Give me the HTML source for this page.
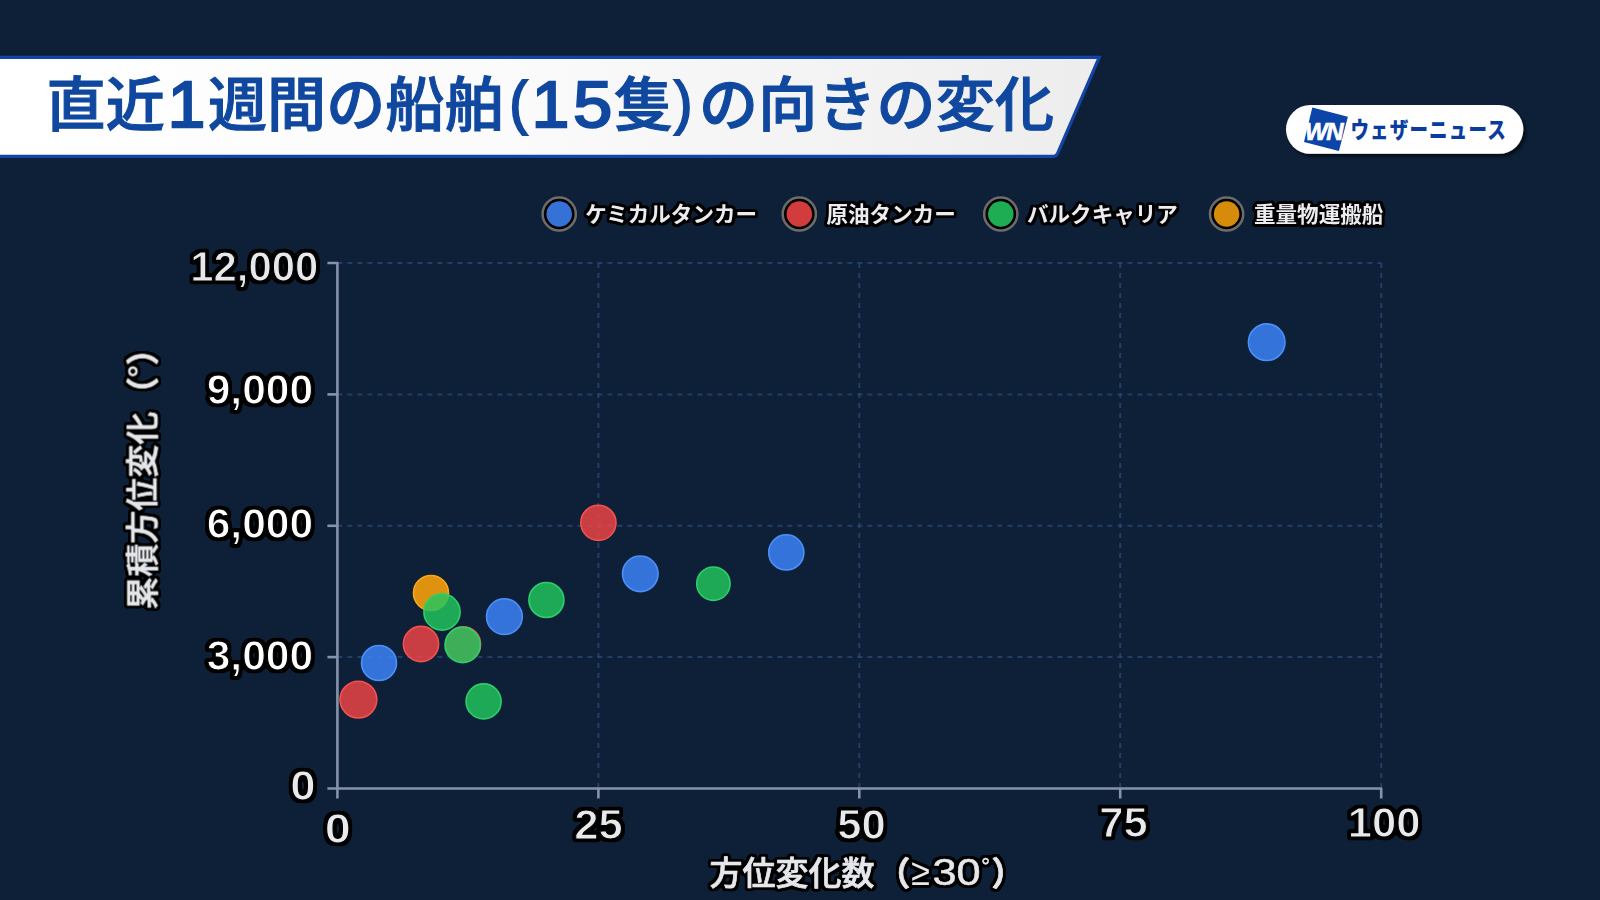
<!DOCTYPE html>
<html lang="ja">
<head>
<meta charset="utf-8">
<title>直近1週間の船舶(15隻)の向きの変化</title>
<style>
html,body{margin:0;padding:0;background:#0d2037;}
body{width:1600px;height:900px;overflow:hidden;position:relative;font-family:"Liberation Sans","Noto Sans CJK JP",sans-serif;}
svg{position:absolute;left:0;top:0;display:block;}
text{font-family:"Liberation Sans","Noto Sans CJK JP",sans-serif;}
.num{font-weight:bold;font-size:43.4px;stroke:#000;stroke-width:1.1px;}
.leg{font-weight:bold;font-size:21.55px;fill:#ececf0;}
.axt{font-weight:500;font-size:33px;fill:#e6e7eb;stroke:#e6e7eb;stroke-width:0.7px;stroke-linejoin:round;}
.ttl{font-weight:500;font-size:59px;letter-spacing:0.2px;fill:#10489f;stroke:#10489f;stroke-width:1.1px;}
.dg{font-weight:normal;letter-spacing:0;}
</style>
</head>
<body>
<svg width="1600" height="900" viewBox="0 0 1600 900">
<defs>
<linearGradient id="bn" x1="0" y1="0" x2="1" y2="0">
<stop offset="0" stop-color="#ffffff"/><stop offset="0.45" stop-color="#fbfbfb"/><stop offset="1" stop-color="#ededed"/>
</linearGradient>
<filter id="sh" x="-20%" y="-40%" width="140%" height="200%">
<feDropShadow dx="2.5" dy="3" stdDeviation="1.7" flood-color="#000" flood-opacity="0.6"/>
</filter>
<filter id="ol" filterUnits="userSpaceOnUse" x="0" y="0" width="1600" height="900" color-interpolation-filters="sRGB">
<feMorphology in="SourceAlpha" operator="dilate" radius="2.0" result="d"/>
<feGaussianBlur in="d" stdDeviation="1.1" result="b"/>
<feComponentTransfer in="b" result="t"><feFuncA type="linear" slope="6" intercept="-1.0"/></feComponentTransfer>
<feFlood flood-color="#000" result="f"/>
<feComposite in="f" in2="t" operator="in" result="o"/>
<feMerge><feMergeNode in="o"/><feMergeNode in="SourceGraphic"/></feMerge>
</filter>
<filter id="ol3" filterUnits="userSpaceOnUse" x="0" y="0" width="1600" height="900" color-interpolation-filters="sRGB">
<feMorphology in="SourceAlpha" operator="dilate" radius="1.6" result="d"/>
<feGaussianBlur in="d" stdDeviation="1.0" result="b"/>
<feComponentTransfer in="b" result="t"><feFuncA type="linear" slope="6" intercept="-1.0"/></feComponentTransfer>
<feFlood flood-color="#000" result="f"/>
<feComposite in="f" in2="t" operator="in" result="o"/>
<feMerge><feMergeNode in="o"/><feMergeNode in="SourceGraphic"/></feMerge>
</filter>
<filter id="ol2" filterUnits="userSpaceOnUse" x="0" y="0" width="1600" height="900" color-interpolation-filters="sRGB">
<feMorphology in="SourceAlpha" operator="dilate" radius="2.3" result="d"/>
<feGaussianBlur in="d" stdDeviation="1.2" result="b"/>
<feComponentTransfer in="b" result="t"><feFuncA type="linear" slope="6" intercept="-1.0"/></feComponentTransfer>
<feFlood flood-color="#000" result="f"/>
<feComposite in="f" in2="t" operator="in" result="o"/>
<feMerge><feMergeNode in="o"/><feMergeNode in="SourceGraphic"/></feMerge>
</filter>
</defs>
<rect x="0" y="0" width="1600" height="900" fill="#0d2037"/>

<path d="M-5 57.3 H1099.2 L1057.6 153.4 Q1056.4 156.3 1053.2 156.3 H-5 Z" fill="url(#bn)" stroke="#1445a6" stroke-width="3.2" stroke-linejoin="miter"/>
<text class="ttl"><tspan x="46.6" y="125.8">直近</tspan><tspan class="dg" x="167.86" y="127.2" font-size="64.8" stroke-width="2.4" textLength="37.48" lengthAdjust="spacingAndGlyphs">1</tspan><tspan x="207.9" y="125.8">週間の船舶</tspan><tspan class="dg" x="509.51" y="123.4" font-size="60.0" stroke-width="2.2" textLength="17.98" lengthAdjust="spacingAndGlyphs">(</tspan><tspan class="dg" x="531.66" y="127.2" font-size="64.8" stroke-width="2.4" textLength="37.48" lengthAdjust="spacingAndGlyphs">1</tspan><tspan class="dg" x="573.34" y="127.2" font-size="64.8" stroke-width="2.4" textLength="38.92" lengthAdjust="spacingAndGlyphs">5</tspan><tspan x="614.1" y="125.8">隻</tspan><tspan class="dg" x="674.21" y="123.4" font-size="60.0" stroke-width="2.2" textLength="17.98" lengthAdjust="spacingAndGlyphs">)</tspan><tspan x="699.0" y="125.8">の向きの変化</tspan></text>
<g filter="url(#sh)"><rect x="1286" y="105" width="237.3" height="48.8" rx="24.4" fill="#fff"/></g>
<polygon points="1312.3,107.4 1347.9,116.8 1338.9,150.9 1304,141.9" fill="#0c44a8"/>
<text x="1305" y="140" font-weight="bold" font-style="italic" font-size="24" letter-spacing="-1.3" fill="#fff" stroke="#fff" stroke-width="0.7">WN</text>
<text transform="translate(1350.4,138.2) scale(0.82,1)" font-size="22.6" letter-spacing="1.4" fill="#0a3ca0" style="font-weight:900">ウェザーニュース</text>
<line x1="598.4" y1="263.0" x2="598.4" y2="788.5" stroke="#2b4876" stroke-width="2" stroke-dasharray="5 5" opacity="0.75"/>
<line x1="859.3" y1="263.0" x2="859.3" y2="788.5" stroke="#2b4876" stroke-width="2" stroke-dasharray="5 5" opacity="0.75"/>
<line x1="1120.2" y1="263.0" x2="1120.2" y2="788.5" stroke="#2b4876" stroke-width="2" stroke-dasharray="5 5" opacity="0.75"/>
<line x1="1381.2" y1="263.0" x2="1381.2" y2="788.5" stroke="#2b4876" stroke-width="2" stroke-dasharray="5 5" opacity="0.75"/>
<line x1="337.4" y1="657.1" x2="1381.2" y2="657.1" stroke="#2b4876" stroke-width="2" stroke-dasharray="5 5" opacity="0.75"/>
<line x1="337.4" y1="525.8" x2="1381.2" y2="525.8" stroke="#2b4876" stroke-width="2" stroke-dasharray="5 5" opacity="0.75"/>
<line x1="337.4" y1="394.4" x2="1381.2" y2="394.4" stroke="#2b4876" stroke-width="2" stroke-dasharray="5 5" opacity="0.75"/>
<line x1="337.4" y1="263.0" x2="1381.2" y2="263.0" stroke="#2b4876" stroke-width="2" stroke-dasharray="5 5" opacity="0.75"/>
<path d="M327.4 263.0 H337.4 V798.5" fill="none" stroke="#8692aa" stroke-width="2.6" stroke-linejoin="round"/>
<path d="M327.4 788.5 H1381.2 V798.5" fill="none" stroke="#8692aa" stroke-width="2.6" stroke-linejoin="round"/>
<line x1="598.4" y1="788.5" x2="598.4" y2="798.5" stroke="#8692aa" stroke-width="2.6"/>
<line x1="859.3" y1="788.5" x2="859.3" y2="798.5" stroke="#8692aa" stroke-width="2.6"/>
<line x1="1120.2" y1="788.5" x2="1120.2" y2="798.5" stroke="#8692aa" stroke-width="2.6"/>
<line x1="327.4" y1="657.1" x2="337.4" y2="657.1" stroke="#8692aa" stroke-width="2.6"/>
<line x1="327.4" y1="525.8" x2="337.4" y2="525.8" stroke="#8692aa" stroke-width="2.6"/>
<line x1="327.4" y1="394.4" x2="337.4" y2="394.4" stroke="#8692aa" stroke-width="2.6"/>
<circle cx="1266.7" cy="342.2" r="18.3" fill="#3b82f6" fill-opacity="0.86" stroke="#4a90f8" stroke-width="1.6"/>
<circle cx="598.4" cy="522.8" r="17.6" fill="#ef4444" fill-opacity="0.83" stroke="#f45050" stroke-width="1.6"/>
<circle cx="786.3" cy="552.4" r="17.6" fill="#3b82f6" fill-opacity="0.86" stroke="#4a90f8" stroke-width="1.6"/>
<circle cx="640.3" cy="573.8" r="17.8" fill="#3b82f6" fill-opacity="0.86" stroke="#4a90f8" stroke-width="1.6"/>
<circle cx="713.4" cy="583.7" r="16.7" fill="#22c55e" fill-opacity="0.83" stroke="#2ccf68" stroke-width="1.6"/>
<circle cx="546.4" cy="600.0" r="17.5" fill="#22c55e" fill-opacity="0.83" stroke="#2ccf68" stroke-width="1.6"/>
<circle cx="431.0" cy="593.0" r="17.5" fill="#f59e0b" fill-opacity="0.9" stroke="#f8a818" stroke-width="1.6"/>
<circle cx="442.0" cy="612.0" r="18.1" fill="#22c55e" fill-opacity="0.83" stroke="#2ccf68" stroke-width="1.6"/>
<circle cx="504.4" cy="616.6" r="17.9" fill="#3b82f6" fill-opacity="0.86" stroke="#4a90f8" stroke-width="1.6"/>
<circle cx="421.0" cy="644.0" r="17.6" fill="#ef4444" fill-opacity="0.83" stroke="#f45050" stroke-width="1.6"/>
<circle cx="463.2" cy="644.2" r="17.4" fill="#ef4444" fill-opacity="0.83" stroke="#f45050" stroke-width="1.6"/>
<circle cx="462.6" cy="645.0" r="17.6" fill="#22c55e" fill-opacity="0.83" stroke="#2ccf68" stroke-width="1.6"/>
<circle cx="379.0" cy="663.0" r="17.5" fill="#3b82f6" fill-opacity="0.86" stroke="#4a90f8" stroke-width="1.6"/>
<circle cx="358.4" cy="699.6" r="18.4" fill="#ef4444" fill-opacity="0.83" stroke="#f45050" stroke-width="1.6"/>
<circle cx="483.6" cy="701.4" r="17.5" fill="#22c55e" fill-opacity="0.83" stroke="#2ccf68" stroke-width="1.6"/>
<circle cx="559.2" cy="214" r="16.6" fill="#000" stroke="#6e6c6b" stroke-width="2.5"/>
<circle cx="559.2" cy="214" r="12.75" fill="#3b82f6" fill-opacity="0.88"/>
<circle cx="799.3" cy="214" r="16.6" fill="#000" stroke="#6e6c6b" stroke-width="2.5"/>
<circle cx="799.3" cy="214" r="12.75" fill="#ef4444" fill-opacity="0.88"/>
<circle cx="1000.8" cy="214" r="16.6" fill="#000" stroke="#6e6c6b" stroke-width="2.5"/>
<circle cx="1000.8" cy="214" r="12.75" fill="#22c55e" fill-opacity="0.88"/>
<circle cx="1226.6" cy="214" r="16.6" fill="#000" stroke="#6e6c6b" stroke-width="2.5"/>
<circle cx="1226.6" cy="214" r="12.75" fill="#f59e0b" fill-opacity="0.88"/>
<g filter="url(#ol)">
<text class="leg" x="585.3" y="221.8">ケミカルタンカー</text>
<text class="leg" x="826.5" y="221.8">原油タンカー</text>
<text class="leg" x="1027.0" y="221.8">バルクキャリア</text>
<text class="leg" x="1254.0" y="221.8">重量物運搬船</text>
</g>
<g filter="url(#ol3)">
<text class="num" transform="translate(318.3,281.2) scale(0.965,1)" text-anchor="end" fill="#e6e8ec">12,000</text>
<text class="num" transform="translate(313.1,404.2) scale(0.980,1)" text-anchor="end" fill="#ffffff">9,000</text>
<text class="num" transform="translate(313.1,538.0) scale(0.980,1)" text-anchor="end" fill="#ffffff">6,000</text>
<text class="num" transform="translate(313.1,670.1) scale(0.980,1)" text-anchor="end" fill="#ffffff">3,000</text>
<text class="num" transform="translate(315.5,800.1) scale(1.050,1)" text-anchor="end" fill="#e8e9ed">0</text>
<text class="num" transform="translate(337.7,843.0) scale(1.080,1)" text-anchor="middle" fill="#e8e9ed">0</text>
<text class="num" transform="translate(598.6,839.1) scale(1.005,1)" text-anchor="middle" fill="#e8e9ed">25</text>
<text class="num" transform="translate(861.5,839.3) scale(1.005,1)" text-anchor="middle" fill="#e8e9ed">50</text>
<text class="num" transform="translate(1123.4,837.2) scale(1.005,1)" text-anchor="middle" fill="#e8e9ed">75</text>
<text class="num" transform="translate(1384.0,837.0) scale(1.005,1)" text-anchor="middle" fill="#e8e9ed">100</text>
</g>
<g filter="url(#ol2)">
<text class="axt"><tspan x="709.5" y="884.6">方位変化数</tspan><tspan x="877.2" y="884.6" style="font-weight:700">（</tspan><tspan x="911.3" y="885.2" font-size="38" font-weight="normal" stroke-width="0" textLength="18.77" lengthAdjust="spacingAndGlyphs">≥</tspan><tspan x="932.4" y="885.3" font-size="37" font-weight="normal" stroke-width="0.5" textLength="48.20" lengthAdjust="spacingAndGlyphs">30</tspan><tspan x="981.3" y="873.6" font-size="22" font-weight="normal" stroke-width="0.5">°</tspan><tspan x="991.5" y="884.6" style="font-weight:700">）</tspan></text>
<text class="axt" transform="translate(154.4,609.6) rotate(-90)">累積方位変化<tspan dx="1.5" style="font-weight:700">（</tspan><tspan dx="-0.7" dy="-2.6">°</tspan><tspan dx="-0.8" dy="2.6" style="font-weight:700">）</tspan></text>
</g>
</svg>
</body>
</html>
